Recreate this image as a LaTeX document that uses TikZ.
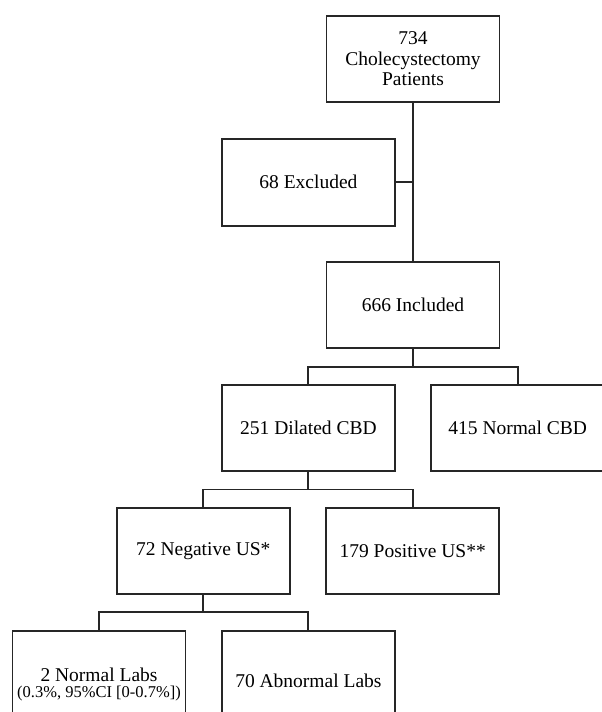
\documentclass[tikz,border=0pt]{standalone}
\usepackage{fontspec}
\setmainfont{Liberation Serif}
\begin{document}
\begin{tikzpicture}[x=1pt,y=-1pt,
  box/.style={draw=black!85, line width=1.9pt, rectangle, minimum width=173pt, minimum height=86pt, inner sep=0pt, align=center, font=\fontsize{19.5}{20.5}\selectfont, text=black},
  tallbox/.style={box, minimum height=100pt},
  conn/.style={draw=black!85, line width=1.9pt}]
\useasboundingbox (0,0) rectangle (602,712);
\clip (0,0) rectangle (602,712);
\node[box] (b1) at (413,59) {734\\Cholecystectomy\\Patients};
\node[box, minimum height=87pt] (b2) at (308.4,182.3) {68 Excluded};
\node[box] (b3) at (413,305.3) {666 Included};
\node[box] (b4) at (308.4,428) {251 Dilated CBD};
\node[box] (b5) at (517.7,428) {415 Normal CBD};
\node[box] (b6) at (203.3,551) {72 Negative US*};
\node[box] (b7) at (412.7,551) {179 Positive US**};
\node[tallbox] (b8) at (99,681) {};
\node[align=center, inner sep=0pt, font=\fontsize{19.5}{20.5}\selectfont, text=black] (b8t) at (99,684) {2 Normal Labs\\[-4.5pt]{\fontsize{16.5}{17}\selectfont (0.3\%, 95\%CI [0-0.7\%])}};
\node[tallbox] (b9) at (308.4,681) {70 Abnormal Labs};
\coordinate (j0) at (413,182.3);
\coordinate (j1) at (413,366.7);
\coordinate (j2) at (308.4,489.5);
\coordinate (j3) at (203.3,612.3);
\draw[conn] (b1.south) -- (b3.north);
\draw[conn] (b2.east) -- (j0);
\draw[conn] (b3.south) -- (j1);
\draw[conn] (b4.north) |- (j1) -| (b5.north);
\draw[conn] (b4.south) -- (j2);
\draw[conn] (b6.north) |- (j2) -| (b7.north);
\draw[conn] (b6.south) -- (j3);
\draw[conn] (b8.north) |- (j3) -| (b9.north);
\end{tikzpicture}
\end{document}
